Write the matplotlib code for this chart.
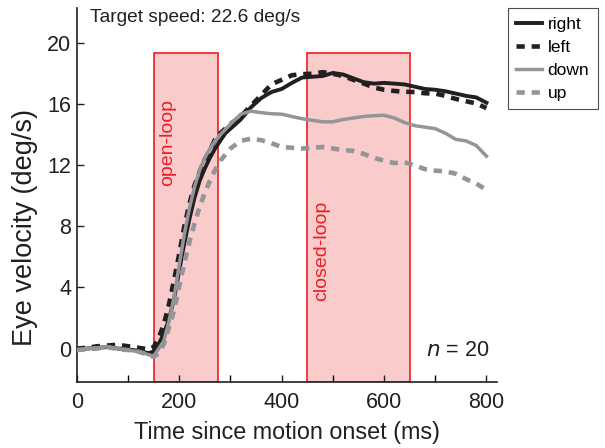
import numpy as np
import matplotlib
matplotlib.use("Agg")
import matplotlib.pyplot as plt
from matplotlib.patches import Rectangle
from matplotlib.ticker import MultipleLocator

plt.rcParams["font.family"] = ["Liberation Sans", "DejaVu Sans"]

# time since motion onset (ms)
time = [0, 20, 40, 60, 80, 100, 120, 140, 150, 160, 170, 180, 190, 200, 210, 220,
        230, 240, 250, 260, 270, 280, 290, 300, 320, 340, 360, 380, 400, 420, 440,
        460, 480, 500, 520, 540, 560, 580, 600, 620, 640, 660, 680, 700, 720, 740,
        760, 780, 800]

# eye velocity (deg/s) per direction
right = [-0.05, 0.0, 0.05, 0.1, 0.0, -0.05, -0.15, -0.3, -0.2, 0.3, 1.0, 1.9, 3.3,
         5.1, 6.9, 8.5, 9.9, 11.0, 11.8, 12.5, 13.1, 13.6, 14.1, 14.4, 15.0, 15.8,
         16.4, 16.8, 17.0, 17.4, 17.75, 17.8, 17.85, 18.05, 17.95, 17.7, 17.45,
         17.35, 17.4, 17.35, 17.3, 17.15, 17.0, 16.95, 16.85, 16.7, 16.55, 16.45, 16.1]
left = [0.0, 0.05, 0.15, 0.2, 0.25, 0.15, 0.05, -0.05, 0.1, 0.7, 1.6, 2.9, 4.5, 6.2,
        8.0, 9.5, 10.7, 11.6, 12.4, 13.0, 13.7, 14.1, 14.4, 14.7, 15.2, 15.9, 16.6,
        17.3, 17.6, 17.9, 17.97, 18.0, 18.1, 18.0, 17.85, 17.6, 17.36, 17.1, 16.95,
        16.87, 16.82, 16.8, 16.72, 16.7, 16.55, 16.35, 16.2, 16.05, 15.75]
down = [-0.07, 0.0, 0.05, 0.12, 0.0, -0.1, -0.2, -0.4, -0.5, 0.0, 0.5, 1.8, 3.4, 5.5,
        7.5, 9.2, 10.6, 11.7, 12.5, 13.1, 13.6, 14.0, 14.35, 14.7, 15.35, 15.55,
        15.45, 15.38, 15.35, 15.2, 15.05, 14.95, 14.85, 14.85, 15.0, 15.1, 15.2,
        15.25, 15.28, 15.1, 14.8, 14.6, 14.5, 14.4, 14.1, 13.7, 13.6, 13.3, 12.6]
up = [-0.1, -0.05, 0.0, 0.1, -0.05, -0.1, -0.2, -0.4, -0.55, -0.3, 0.3, 1.4, 2.5, 4.1,
      5.6, 7.0, 8.2, 9.3, 10.2, 11.0, 11.7, 12.3, 12.7, 13.1, 13.6, 13.75, 13.65,
      13.45, 13.2, 13.15, 13.1, 13.15, 13.2, 13.1, 13.0, 12.95, 12.75, 12.5, 12.3,
      12.15, 12.2, 12.0, 11.75, 11.65, 11.6, 11.45, 11.1, 10.8, 10.4]

# analysis windows (ms)
open_loop = (150, 275)
closed_loop = (450, 650)

black = "#231f20"
grey = "#939598"
red = "#ed1c24"
pink = "#f9cbcb"

fig = plt.figure(figsize=(6.05, 4.48), dpi=100)
ax = fig.add_axes([0.127, 0.147, 0.694, 0.835])

ymin, ymax = -2.2, 22.3
for (t0, t1) in (open_loop, closed_loop):
    ax.add_patch(Rectangle((t0, ymin), t1 - t0, 19.35 - ymin, facecolor=pink,
                           edgecolor=red, lw=1.2, zorder=1))

dash = (0, (1.8, 1.5))
ax.plot(time, right, color=black, lw=2.8, label="right", zorder=3)
ax.plot(time, left, color=black, lw=3.3, ls=dash, label="left", zorder=3)
ax.plot(time, down, color=grey, lw=2.5, label="down", zorder=3)
ax.plot(time, up, color=grey, lw=3.3, ls=dash, label="up", zorder=3)

ax.text(177, 13.5, "open-loop", rotation=90, color=red, fontsize=14,
        ha="center", va="center")
ax.text(478, 6.4, "closed-loop", rotation=90, color=red, fontsize=14,
        ha="center", va="center")
ax.text(0.031, 0.975, "Target speed: 22.6 deg/s", transform=ax.transAxes,
        fontsize=13.8, va="center", ha="left", color=black)
ax.text(806, -0.1, r"$\it{n}$ = 20", fontsize=15.5, ha="right", va="center",
        color=black)

ax.set_xlim(0, 820)
ax.set_ylim(ymin, ymax)
ax.set_xticks([0, 200, 400, 600, 800])
ax.xaxis.set_minor_locator(MultipleLocator(100))
ax.set_yticks([0, 4, 8, 12, 16, 20])
ax.tick_params(direction="in", length=5, width=1, labelsize=15.5, colors=black)
ax.tick_params(axis="x", pad=7)
ax.tick_params(axis="y", pad=4)
ax.tick_params(which="minor", direction="in", length=5, width=1)
for s in ("top", "right"):
    ax.spines[s].set_visible(False)
for s in ("left", "bottom"):
    ax.spines[s].set_linewidth(1.2)
    ax.spines[s].set_color(black)

ax.set_xlabel("Time since motion onset (ms)", fontsize=16.8, color=black, labelpad=6)
ax.set_ylabel("Eye velocity (deg/s)", fontsize=19.5, color=black)
ax.yaxis.set_label_coords(-0.093, 0.413)

leg = fig.legend(loc="upper right", bbox_to_anchor=(598 / 605, 1 - 8 / 448),
                 fontsize=12.5, frameon=True, fancybox=False, handlelength=1.45,
                 borderpad=0.5, labelspacing=0.45, handletextpad=0.35,
                 borderaxespad=0)
leg.get_frame().set_edgecolor(black)
leg.get_frame().set_linewidth(0.8)

fig.savefig("out.png", dpi=100)
